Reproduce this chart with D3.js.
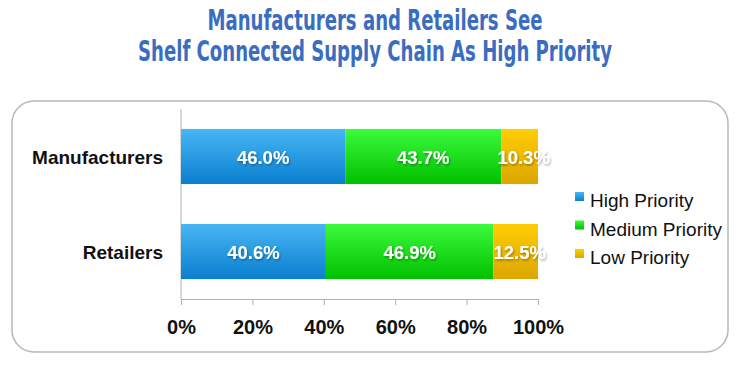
<!DOCTYPE html>
<meta charset="utf-8">
<style>
  body { margin: 0; background: #fff; }
  svg { display: block; font-family: "Liberation Sans", Arial, sans-serif; }
</style>
<svg width="750" height="373"></svg>
<script src="https://d3js.org/d3.v7.min.js"></script>
<script>

var titleLines = ["Manufacturers and Retailers See", "Shelf Connected Supply Chain As High Priority"],
    categories = ["Manufacturers", "Retailers"],
    seriesNames = ["High Priority", "Medium Priority", "Low Priority"],
    highValues = [46.0, 40.6],
    mediumValues = [43.7, 46.9],
    lowValues = [10.3, 12.5],
    tickValues = [0, 20, 40, 60, 80, 100];

var svg = d3.select("svg");

var colors = [["#48b6f3", "#0a7fcf"], ["#3cfb3c", "#00c000"], ["#ffcd05", "#dca600"]];

var defs = svg.append("defs");
colors.forEach(function(c, i) {
  var g = defs.append("linearGradient").attr("id", "g" + i)
      .attr("x1", 0).attr("y1", 0).attr("x2", 0).attr("y2", 1);
  g.append("stop").attr("offset", "0%").attr("stop-color", c[0]);
  g.append("stop").attr("offset", "100%").attr("stop-color", c[1]);
});
var sh = defs.append("filter").attr("id", "shadow")
    .attr("x", "-20%").attr("y", "-20%").attr("width", "140%").attr("height", "160%");
sh.append("feDropShadow").attr("dx", 1).attr("dy", 1.5).attr("stdDeviation", 1)
    .attr("flood-color", "#000").attr("flood-opacity", 0.35);

// title
svg.selectAll("text.title")
  .data(titleLines)
  .enter().append("text")
    .attr("class", "title")
    .attr("x", 375)
    .attr("y", function(d, i) { return 30 + i * 31; })
    .attr("text-anchor", "middle")
    .attr("textLength", function(d, i) { return i ? 474 : 335; })
    .attr("lengthAdjust", "spacingAndGlyphs")
    .style("font-family", "'Liberation Sans Narrow', 'DejaVu Sans Condensed', sans-serif")
    .style("font-weight", "bold")
    .style("font-size", "29px")
    .attr("fill", "#3a6dc2")
    .text(function(d) { return d; });

// frame
svg.append("rect")
    .attr("x", 12).attr("y", 101)
    .attr("width", 716).attr("height", 251)
    .attr("rx", 22).attr("ry", 22)
    .attr("fill", "#fff")
    .attr("stroke", "#b8b8b8")
    .attr("stroke-width", 1.5);

var x = d3.scaleLinear().domain([0, 100]).range([181, 538]);
var y = d3.scaleBand().domain(categories).range([109, 299]).paddingInner(0.42).paddingOuter(0.21);

var rows = categories.map(function(c, i) {
  return { cat: c, "High Priority": highValues[i], "Medium Priority": mediumValues[i], "Low Priority": lowValues[i] };
});
var stacked = d3.stack().keys(seriesNames)(rows);

// axis
var axis = svg.append("g")
    .attr("transform", "translate(0,299)")
    .call(d3.axisBottom(x).tickValues(tickValues).tickSize(6).tickFormat(function(d) { return d + "%"; }));
axis.select(".domain").attr("stroke", "#b0b0b0");
axis.selectAll(".tick line").attr("stroke", "#b0b0b0");
axis.selectAll(".tick text")
    .attr("y", 21)
    .attr("fill", "#111")
    .style("font-size", "20px")
    .style("font-weight", "bold")
    .style("font-family", "'Liberation Sans', Arial, sans-serif");

svg.append("line")
    .attr("x1", x(0)).attr("x2", x(0))
    .attr("y1", 109).attr("y2", 299)
    .attr("stroke", "#b0b0b0");

// bars
var layer = svg.selectAll("g.layer")
  .data(stacked)
  .enter().append("g")
    .attr("class", "layer")
    .attr("fill", function(d, i) { return "url(#g" + i + ")"; });

layer.selectAll("rect")
  .data(function(d) { return d; })
  .enter().append("rect")
    .attr("x", function(d) { return x(d[0]); })
    .attr("y", function(d) { return y(d.data.cat); })
    .attr("width", function(d) { return x(d[1]) - x(d[0]); })
    .attr("height", y.bandwidth());

layer.selectAll("text")
  .data(function(d) { return d; })
  .enter().append("text")
    .attr("x", function(d) { return (x(d[0]) + x(d[1])) / 2 + ((d[1] - d[0]) < 15 ? 4 : 0); })
    .attr("y", function(d) { return y(d.data.cat) + y.bandwidth() / 2 + 7; })
    .attr("text-anchor", "middle")
    .attr("fill", "#fff")
    .attr("filter", "url(#shadow)")
    .style("font-size", "18.5px")
    .style("font-weight", "bold")
    .text(function(d) { return (d[1] - d[0]).toFixed(1) + "%"; });

// category labels
svg.selectAll("text.cat")
  .data(categories)
  .enter().append("text")
    .attr("class", "cat")
    .attr("x", 163)
    .attr("y", function(d) { return y(d) + y.bandwidth() / 2 + 7; })
    .attr("text-anchor", "end")
    .attr("fill", "#111")
    .style("font-size", "19px")
    .style("font-weight", "bold")
    .text(function(d) { return d; });

// legend
var legend = svg.selectAll("g.legend")
  .data(seriesNames)
  .enter().append("g")
    .attr("class", "legend")
    .attr("transform", function(d, i) { return "translate(575," + (200 + i * 28.5) + ")"; });

legend.append("rect")
    .attr("x", 0).attr("y", -8)
    .attr("width", 9).attr("height", 9)
    .attr("fill", function(d, i) { return "url(#g" + i + ")"; });

legend.append("text")
    .attr("x", 15).attr("y", 7)
    .attr("fill", "#111")
    .style("font-size", "19px")
    .text(function(d) { return d; });

</script>
